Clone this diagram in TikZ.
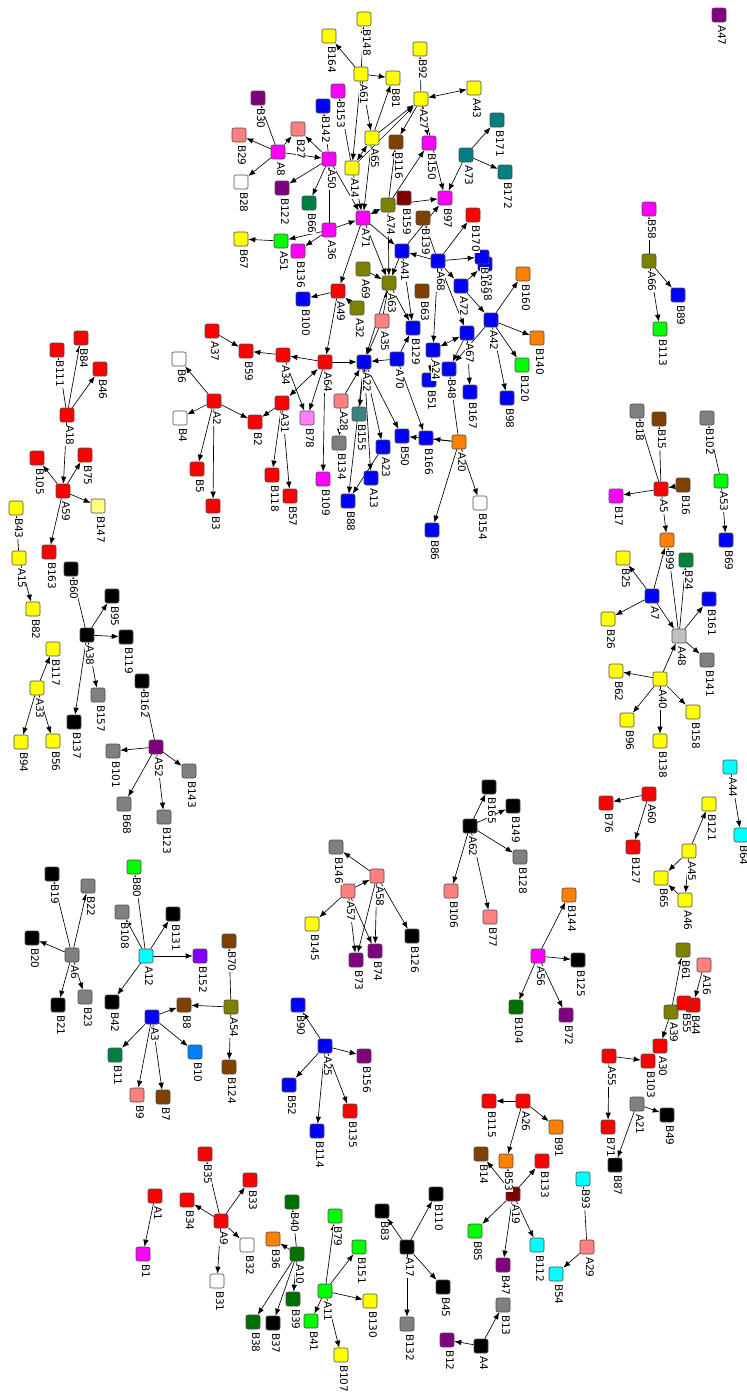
\documentclass[tikz,border=0pt]{standalone}
\usepackage{fontspec}
\setmainfont{DejaVu Sans}
\usetikzlibrary{arrows.meta}
\pgfdeclarelayer{edges}
\pgfsetlayers{edges,main}
\definecolor{R}{HTML}{FF0000}\definecolor{Y}{HTML}{FFFF00}\definecolor{M}{HTML}{FF00FF}
\definecolor{Bl}{HTML}{0000FF}\definecolor{Sa}{HTML}{FF8080}\definecolor{Pu}{HTML}{800080}
\definecolor{Ol}{HTML}{808000}\definecolor{Te}{HTML}{008080}\definecolor{Br}{HTML}{804000}
\definecolor{Ma}{HTML}{800000}\definecolor{Gr}{HTML}{00FF00}\definecolor{Dg}{HTML}{008040}
\definecolor{Dgb}{HTML}{007000}\definecolor{Gy}{HTML}{808080}\definecolor{Lg}{HTML}{C0C0C0}
\definecolor{Bk}{HTML}{000000}\definecolor{Wh}{HTML}{FFFFFF}\definecolor{Or}{HTML}{FF8000}
\definecolor{Ly}{HTML}{FFFF80}\definecolor{Pv}{HTML}{FF80FF}\definecolor{Cy}{HTML}{00FFFF}
\definecolor{Vi}{HTML}{8000FF}\definecolor{Az}{HTML}{0080FF}\definecolor{Tg}{HTML}{408080}
\gdef\labcmds{}
\newcommand\gn[4]{\node[nd,fill=#4] (#1) at (#2,#3) {};%
  \expandafter\gdef\expandafter\labcmds\expandafter{\labcmds\lbl{#1}}}
\newcommand\lbl[1]{\node[lb] at ([xshift=-1pt,yshift=-2pt]#1.south) {#1};}
\tikzset{
  nd/.style={draw=black!70, rounded corners=2pt, minimum size=14pt, inner sep=0pt, line width=0.6pt},
  lb/.style={rotate=-90, anchor=base west, font=\fontsize{10.5}{12}\selectfont, inner sep=0.6pt, fill=white},
  ed/.style={draw=black, line width=0.65pt, -{Latex[length=7pt,width=5.5pt]}},
  ee/.style={draw=black, line width=0.65pt, {Latex[length=7pt,width=5.5pt]}-{Latex[length=7pt,width=5.5pt]}}
}
\begin{document}
\begin{tikzpicture}[x=1pt,y=-1pt]
\useasboundingbox (0,0) rectangle (747,1398);
% central cluster
\gn{A61}{361}{74}{Y}\gn{B148}{364}{19}{Y}\gn{B164}{329}{36}{Y}\gn{B81}{393}{78}{Y}
\gn{B92}{420}{49}{Y}\gn{A27}{421}{99}{Y}\gn{A43}{474}{88}{Y}\gn{B30}{258}{98}{Pu}
\gn{B153}{338}{91}{M}\gn{B142}{323}{106}{Bl}\gn{B27}{298}{129}{Sa}\gn{A8}{278}{152}{M}
\gn{B29}{239}{135}{Sa}\gn{B28}{241}{182}{Wh}\gn{A50}{329}{159}{M}\gn{A65}{372}{138}{Y}
\gn{A14}{352}{168}{Y}\gn{B116}{396}{142}{Br}\gn{B150}{429}{143}{M}\gn{A73}{466}{155}{Te}
\gn{B171}{497}{120}{Te}\gn{B172}{505}{172}{Te}\gn{B122}{282}{188}{Pu}\gn{B66}{309}{203}{Dg}
\gn{A71}{363}{218}{M}\gn{A74}{388}{205}{Ol}\gn{B159}{404}{198}{Ma}\gn{B97}{445}{198}{M}
\gn{B139}{423}{218}{Br}\gn{B170}{473}{215}{R}\gn{A36}{329}{230}{M}\gn{A51}{281}{241}{Gr}
\gn{B67}{241}{239}{Y}\gn{B136}{298}{251}{M}\gn{A41}{402}{251}{Bl}\gn{A68}{438}{261}{Bl}
\gn{B168}{485}{264}{Bl}\gn{B169}{482}{257}{Bl}\gn{A69}{363}{269}{Ol}\gn{A63}{389}{283}{Ol}
\gn{B63}{422}{291}{Br}\gn{A72}{461}{286}{Bl}\gn{A42}{491}{320}{Bl}\gn{A49}{338}{291}{R}
\gn{B100}{303}{299}{Bl}\gn{A32}{357}{308}{Ol}\gn{A35}{382}{321}{Sa}\gn{B129}{413}{328}{Bl}
\gn{B160}{523}{274}{Or}\gn{B140}{537}{338}{Or}\gn{B120}{522}{365}{Gr}\gn{B98}{507}{398}{Bl}
\gn{A67}{467}{333}{Bl}\gn{A24}{433}{350}{Bl}\gn{B48}{449}{369}{Bl}\gn{B51}{429}{380}{Bl}
\gn{B167}{470}{392}{Bl}\gn{A34}{283}{355}{R}\gn{A64}{325}{362}{R}\gn{A22}{364}{362}{Bl}
\gn{A70}{397}{359}{Bl}\gn{A37}{212}{331}{R}\gn{B59}{246}{351}{R}\gn{A31}{282}{403}{R}
\gn{B78}{307}{418}{Pv}\gn{B2}{255}{422}{R}\gn{A28}{341}{401}{Sa}\gn{B155}{359}{414}{Tg}
\gn{B134}{339}{443}{Gy}\gn{A23}{383}{447}{Bl}\gn{A13}{371}{478}{Bl}\gn{B88}{348}{501}{Bl}
\gn{B109}{323}{479}{M}\gn{B118}{272}{475}{R}\gn{B57}{290}{496}{R}\gn{B50}{402}{436}{Bl}
\gn{B166}{426}{438}{Bl}\gn{A20}{459}{442}{Or}\gn{B154}{480}{503}{Wh}\gn{B86}{432}{530}{Bl}
\gn{B6}{179}{359}{Wh}\gn{A2}{214}{401}{R}\gn{B4}{180}{418}{Wh}\gn{B5}{197}{469}{R}\gn{B3}{213}{506}{R}
% left
\gn{B111}{57}{350}{R}\gn{B84}{81}{338}{R}\gn{B46}{100}{369}{R}\gn{A18}{67}{415}{R}
\gn{B75}{85}{455}{R}\gn{B105}{37}{458}{R}\gn{A59}{63}{491}{R}\gn{B147}{98}{506}{Ly}
\gn{B163}{49}{552}{R}\gn{B43}{16}{508}{Y}\gn{A15}{19}{558}{Y}\gn{B82}{33}{609}{Y}
\gn{B60}{71}{569}{Bk}\gn{A38}{87}{635}{Bk}\gn{B95}{112}{596}{Bk}\gn{B119}{126}{637}{Bk}
\gn{B162}{142}{681}{Bk}\gn{B117}{53}{649}{Y}\gn{A33}{37}{688}{Y}\gn{B157}{98}{695}{Gy}
\gn{B137}{74}{722}{Bk}\gn{B94}{21}{742}{Y}\gn{B56}{53}{741}{Y}\gn{A52}{156}{747}{Pu}
\gn{B101}{113}{751}{Gy}\gn{B143}{189}{771}{Gy}\gn{B68}{124}{804}{Gy}\gn{B123}{164}{817}{Gy}
\gn{B19}{52}{874}{Bk}\gn{B22}{88}{886}{Gy}\gn{B20}{32}{938}{Bk}\gn{A6}{72}{955}{Gy}
\gn{B21}{58}{1005}{Bk}\gn{B23}{85}{997}{Gy}\gn{B80}{134}{867}{Gr}\gn{B108}{122}{912}{Gy}
\gn{B131}{173}{914}{Bk}\gn{A12}{146}{956}{Cy}\gn{B152}{200}{956}{Vi}\gn{B42}{112}{1002}{Bk}
\gn{B70}{229}{941}{Br}\gn{A54}{231}{1007}{Ol}\gn{B8}{184}{1005}{Br}\gn{A3}{152}{1017}{Bl}
\gn{B11}{115}{1055}{Dg}\gn{B10}{195}{1052}{Az}\gn{B124}{229}{1067}{Br}\gn{B9}{137}{1095}{Sa}
\gn{B7}{163}{1097}{Br}\gn{B35}{205}{1154}{R}\gn{B34}{187}{1200}{R}\gn{A9}{221}{1221}{R}
\gn{B33}{250}{1180}{R}\gn{B32}{247}{1245}{Wh}\gn{B31}{217}{1281}{Wh}\gn{A1}{155}{1196}{R}
\gn{B1}{143}{1254}{M}
% bottom middle
\gn{B40}{292}{1202}{Dgb}\gn{B36}{273}{1239}{Or}\gn{A10}{297}{1254}{Dgb}\gn{B39}{293}{1299}{Dgb}
\gn{B37}{273}{1323}{Bk}\gn{B38}{253}{1322}{Dgb}\gn{B79}{335}{1216}{Gr}\gn{B151}{359}{1247}{Gr}
\gn{A11}{325}{1291}{Gr}\gn{B130}{370}{1301}{Y}\gn{B41}{311}{1321}{Gr}\gn{B107}{341}{1355}{Y}
\gn{B83}{382}{1211}{Bk}\gn{B110}{436}{1194}{Bk}\gn{A17}{407}{1247}{Bk}\gn{B45}{443}{1287}{Bk}
\gn{B132}{407}{1324}{Gy}\gn{A4}{481}{1346}{Bk}\gn{B12}{447}{1340}{Pu}\gn{B13}{503}{1305}{Gy}
\gn{B90}{298}{1005}{Bl}\gn{A25}{325}{1046}{Bl}\gn{B156}{364}{1056}{Pu}\gn{B52}{289}{1085}{Bl}
\gn{B135}{350}{1111}{R}\gn{B114}{317}{1131}{Bl}
\gn{B146}{336}{847}{Gy}\gn{A58}{377}{876}{Sa}\gn{A57}{348}{891}{Sa}\gn{B145}{312}{924}{Y}
\gn{B73}{356}{960}{Pu}\gn{B74}{375}{951}{Pu}\gn{B126}{412}{936}{Bk}
\gn{B165}{489}{787}{Bk}\gn{A62}{470}{826}{Bk}\gn{B149}{513}{806}{Bk}\gn{B128}{520}{857}{Gy}
\gn{B106}{451}{891}{Sa}\gn{B77}{490}{917}{Sa}
\gn{B144}{569}{895}{Or}\gn{A56}{538}{956}{M}\gn{B125}{578}{960}{Bk}\gn{B104}{516}{1007}{Dgb}
\gn{B72}{566}{1015}{Pu}
\gn{B115}{489}{1101}{R}\gn{A26}{523}{1101}{R}\gn{B91}{556}{1127}{Or}\gn{B14}{481}{1154}{Br}
\gn{B53}{506}{1161}{Or}\gn{B133}{542}{1161}{R}\gn{A19}{513}{1194}{Ma}\gn{B85}{475}{1231}{Gr}
\gn{B112}{537}{1245}{Cy}\gn{B47}{503}{1265}{Pu}\gn{B93}{583}{1179}{Cy}\gn{A29}{587}{1247}{Sa}
\gn{B54}{556}{1274}{Cy}
% right
\gn{A55}{609}{1056}{R}\gn{B103}{648}{1061}{R}\gn{A30}{660}{1046}{R}\gn{A21}{637}{1104}{Gy}
\gn{B49}{667}{1115}{Bk}\gn{B71}{608}{1127}{R}\gn{B87}{615}{1165}{Bk}
\gn{B61}{683}{950}{Ol}\gn{A16}{704}{965}{Sa}\gn{A39}{671}{1012}{Ol}\gn{B44}{693}{1005}{R}\gn{B55}{684}{1003}{R}
\gn{A60}{649}{794}{R}\gn{B76}{606}{803}{R}\gn{B127}{633}{847}{R}\gn{B121}{709}{804}{Y}
\gn{A45}{689}{851}{Y}\gn{B65}{661}{878}{Y}\gn{A46}{685}{900}{Y}\gn{A44}{730}{767}{Cy}\gn{B64}{741}{835}{Cy}
\gn{B96}{627}{720}{Y}\gn{B138}{660}{741}{Y}\gn{B158}{693}{712}{Y}\gn{A40}{660}{679}{Y}
\gn{B62}{616}{671}{Y}\gn{A48}{679}{636}{Lg}\gn{B141}{707}{660}{Gy}\gn{B161}{709}{599}{Bl}
\gn{A7}{652}{596}{Bl}\gn{B26}{608}{619}{Y}\gn{B25}{623}{558}{Y}\gn{B24}{686}{560}{Dg}
\gn{B99}{667}{540}{Or}\gn{A5}{661}{489}{R}\gn{B16}{683}{485}{Br}\gn{B17}{616}{496}{M}
\gn{B18}{637}{411}{Gy}\gn{B15}{659}{419}{Br}\gn{B102}{707}{418}{Gy}\gn{A53}{721}{481}{Gr}
\gn{B69}{726}{540}{Bl}\gn{B58}{649}{209}{M}\gn{A66}{649}{261}{Ol}\gn{B89}{678}{295}{Bl}
\gn{B113}{660}{329}{Gr}\gn{A47}{719}{15}{Pu}
\labcmds
\begin{pgfonlayer}{edges}
\foreach \a/\b in {A61/B148,A61/B164,A61/B81,A61/A65,A61/A14,A65/B81,A65/A27,A14/A27,
 A27/B92,A27/B116,A27/B150,A27/B97,A73/B171,A73/B172,A73/B97,A74/B150,A74/B97,A41/B97,A68/B139,A74/B116,
 A50/B142,A14/B153,A50/B27,A8/B27,A50/B122,A50/B66,A50/A71,A8/B30,A8/B29,A8/B28,A8/A50,
 A36/A71,A36/A51,A36/B136,A51/B67,A36/A50,A71/A49,A71/A41,A71/A63,A14/A71,A65/A71,
 A74/A63,A69/A63,A41/A63,A68/A41,A68/B170,A68/B169,A68/A72,A72/A42,A72/B168,A68/A67,A49/B100,A49/A64,
 A35/A63,A35/A22,A63/A22,A32/A49,A42/B160,A42/B140,A42/B120,A42/B98,A42/B48,A67/B167,A67/B48,A20/B48,
 A20/B166,A20/B50,A20/B86,A20/B154,A70/B166,A22/B50,A70/A22,A64/A22,A64/A34,A34/B59,
 A37/B59,A34/B78,A64/B78,A64/B109,A31/B2,A31/B118,A31/B57,A2/B2,A2/B6,A2/B4,A2/B5,A2/B3,
 A28/A22,A28/B134,A22/B88,A22/B155,A22/A23,A23/B88,A22/A13,A41/B129,A63/B129,A70/B129,A68/A24,A24/B51,
 A1/B1,A9/B35,A9/B34,A9/B33,A9/B32,A9/B31,A10/B40,A10/B36,A10/B39,A10/B37,A10/B38,
 A11/B79,A11/B151,A11/B130,A11/B41,A11/B107,A17/B83,A17/B110,A17/B45,A17/B132,A4/B12,A4/B13,
 A25/B90,A25/B156,A25/B52,A25/B114,A25/B135,A19/B14,A19/B53,A19/B133,A19/B85,A19/B47,A19/B112,
 A26/B115,A26/B91,A26/B53,A29/B93,A29/B54,A55/B103,A55/B71,A21/B49,A21/B87,A39/B61,A39/A30,
 A16/B44,A56/B144,A56/B125,A56/B104,A56/B72,A62/B165,A62/B149,A62/B128,A62/B106,A62/B77,
 A57/A58,A58/B146,A57/B145,A57/B73,A58/B73,A58/B74,A58/B126,A57/B74,A60/B76,A60/B127,
 A45/B121,A45/B65,A45/A46,A46/B65,A44/B64,A40/B62,A40/B96,A40/B138,A40/B158,A40/A48,
 A48/B161,A48/B141,A48/B99,A48/B24,A7/A48,A7/B25,A7/B26,A7/B99,A5/B18,A5/B15,B16/A5,A5/B17,
 A5/B99,A53/B102,A53/B69,A66/B58,A66/B89,A66/B113,A52/B162,A52/B101,A52/B143,A52/B68,A52/B123,
 A38/B60,A38/B95,A38/B119,A38/B157,A38/B137,A33/B117,A33/B94,A33/B56,A15/B43,A15/B82,
 A18/B111,A18/B84,A18/B46,A18/A59,A59/B105,A59/B75,A59/B147,A59/B163,A6/B19,A6/B22,A6/B20,
 A6/B21,A6/B23,A12/B80,A12/B108,A12/B131,A12/B152,A12/B42,A54/B70,A54/B8,A54/B124,
 A3/B8,A3/B11,A3/B10,A3/B9,A3/B7}
 {\draw[ed] (\a) -- (\b);}
\draw[ee] (A27) -- (A43);
\draw[ee] (A64) -- (A31);
\draw[ee] (A14) -- (A65);
\draw[ee] (A71) -- (A74);
\draw[ee] (A67) -- (A24);
\end{pgfonlayer}
\end{tikzpicture}
\end{document}
